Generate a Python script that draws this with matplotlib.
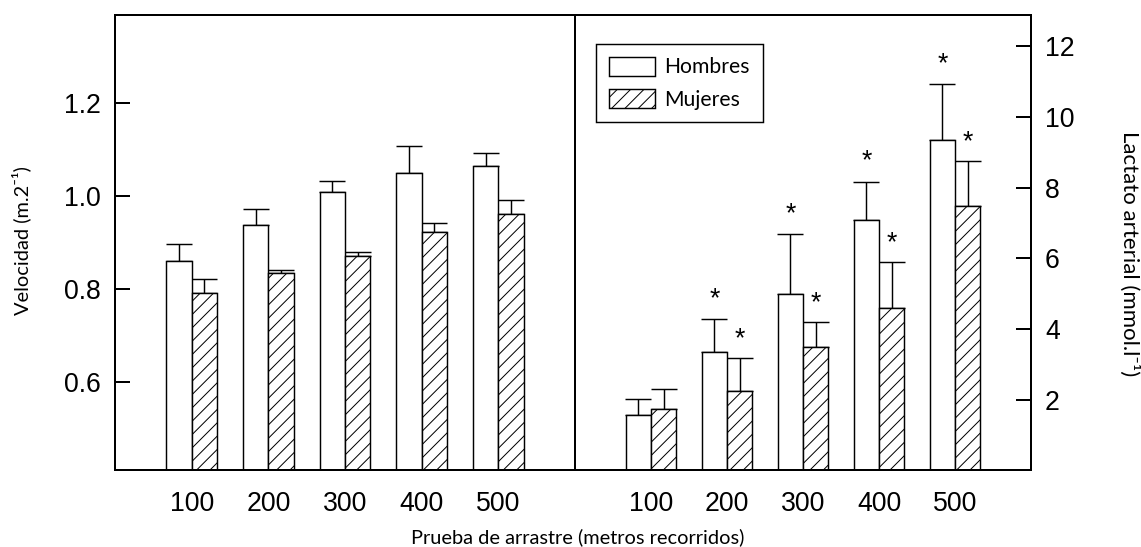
import numpy as np
import matplotlib
matplotlib.use("Agg")
import matplotlib.pyplot as plt

# ---- data ----
distances = ["100", "200", "300", "400", "500"]
vel_men = [0.861, 0.938, 1.008, 1.050, 1.064]
vel_men_err = [0.035, 0.034, 0.024, 0.057, 0.029]
vel_women = [0.792, 0.834, 0.871, 0.922, 0.961]
vel_women_err = [0.030, 0.007, 0.009, 0.021, 0.031]

lac_men = [1.58, 3.37, 4.99, 7.08, 9.34]
lac_men_err = [0.45, 0.92, 1.70, 1.09, 1.59]
lac_women = [1.74, 2.27, 3.49, 4.60, 7.47]
lac_women_err = [0.57, 0.93, 0.71, 1.31, 1.28]
sig_men = [False, True, True, True, True]
sig_women = [False, True, True, True, True]

series_labels = ["Hombres", "Mujeres"]
vel_ticks = [0.6, 0.8, 1.0, 1.2]
lac_ticks = [2, 4, 6, 8, 10, 12]

DPI = 80
W, H = 1141, 547
fig = plt.figure(figsize=(W / DPI, H / DPI), dpi=DPI)
plt.rcParams['hatch.linewidth'] = 0.9

LABEL_FONT = ['Lato', 'DejaVu Sans']
TICK_FONT = 'Liberation Sans'
TICK_SIZE = 24

axL = fig.add_axes([115 / W, 1 - 470 / H, (575 - 115) / W, (470 - 15) / H])
axR = fig.add_axes([575 / W, 1 - 470 / H, (1031 - 575) / W, (470 - 15) / H])
axR.patch.set_visible(False)

x = np.arange(len(distances))
bw = 0.33
lw_bar = 1.3
lw_sp = 1.8


def draw(ax, men, men_err, women, women_err):
    b1 = ax.bar(x - bw / 2, men, bw, color='white', edgecolor='black',
                linewidth=lw_bar, label=series_labels[0], zorder=2)
    b2 = ax.bar(x + bw / 2, women, bw, color='white', edgecolor='black',
                hatch='//', linewidth=lw_bar, label=series_labels[1], zorder=2)
    ax.errorbar(x - bw / 2, men, yerr=[np.zeros(len(men)), men_err], fmt='none',
                ecolor='black', elinewidth=1.3, capsize=12, capthick=1.3, zorder=1)
    ax.errorbar(x + bw / 2, women, yerr=[np.zeros(len(women)), women_err], fmt='none',
                ecolor='black', elinewidth=1.3, capsize=12, capthick=1.3, zorder=1)
    ax.set_xlim(-1, 5)
    ax.set_xticks(x)
    ax.set_xticklabels(distances, fontsize=TICK_SIZE, fontfamily=TICK_FONT)
    ax.tick_params(axis='x', length=0, pad=19)
    for s in ax.spines.values():
        s.set_linewidth(lw_sp)
    return b1, b2


draw(axL, vel_men, vel_men_err, vel_women, vel_women_err)
axL.set_ylim(0.41, 1.39)
axL.set_yticks(vel_ticks)
axL.set_yticklabels([f"{v:.1f}" for v in vel_ticks], fontsize=TICK_SIZE, fontfamily=TICK_FONT)
axL.tick_params(axis='y', direction='in', length=13.5, width=1.8, pad=13)

b1, b2 = draw(axR, lac_men, lac_men_err, lac_women, lac_women_err)
axR.set_ylim(0.03, 12.87)
axR.yaxis.tick_right()
axR.set_yticks(lac_ticks)
axR.set_yticklabels([str(v) for v in lac_ticks], fontsize=TICK_SIZE, fontfamily=TICK_FONT)
axR.tick_params(axis='y', direction='in', length=13.5, width=1.8, pad=12.5)
axR.spines['left'].set_visible(False)

for i in range(len(distances)):
    if sig_men[i]:
        axR.annotate('*', (x[i] - bw / 2, lac_men[i] + lac_men_err[i]),
                     xytext=(0, 18), textcoords='offset points', ha='center',
                     va='center', fontsize=24, fontfamily=TICK_FONT)
    if sig_women[i]:
        axR.annotate('*', (x[i] + bw / 2, lac_women[i] + lac_women_err[i]),
                     xytext=(0, 17), textcoords='offset points', ha='center',
                     va='center', fontsize=24, fontfamily=TICK_FONT)

leg = axR.legend(handles=[b1, b2], loc='upper left',
                 bbox_to_anchor=(596 / W, 1 - 44 / H), bbox_transform=fig.transFigure,
                 prop={'family': LABEL_FONT, 'size': 19}, frameon=True, fancybox=False,
                 framealpha=1, edgecolor='black', borderaxespad=0, borderpad=0.6,
                 handlelength=2.2, handleheight=1.0, handletextpad=0.45,
                 labelspacing=0.55)
leg.get_frame().set_linewidth(1.3)

fig.text(578 / W, 1 - 537 / H, "Prueba de arrastre (metros recorridos)",
         ha='center', va='center', fontsize=18, family=LABEL_FONT)
fig.text(21 / W, 1 - 241 / H, "Velocidad (m.2\u207b\u00b9)", rotation=90,
         ha='center', va='center', fontsize=18, family=LABEL_FONT)
fig.text(1130 / W, 1 - 254 / H, "Lactato arterial (mmol.l\u207b\u00b9)", rotation=270,
         ha='center', va='center', fontsize=20, family=LABEL_FONT)

fig.savefig("out.png", dpi=DPI, facecolor='white')
